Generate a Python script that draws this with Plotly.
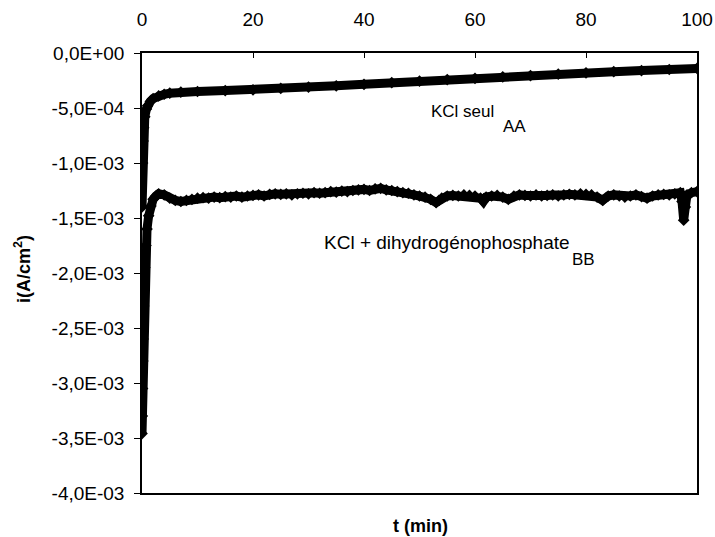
import plotly.graph_objects as go

# Series A: KCl seul  (time in min, current in 1e-4 A/cm2)
t_a = [0, 0.1, 0.2, 0.3, 0.5, 0.8, 1.0, 1.5, 2, 3, 4, 5, 7, 10, 15, 20, 25, 30, 35, 40, 45,
       50, 55, 60, 65, 70, 75, 80, 85, 90, 95, 100]
i_a = [-14.0, -10.0, -8.0, -6.8, -5.8, -5.1, -4.8, -4.4, -4.15, -3.9, -3.75, -3.65, -3.55,
       -3.5, -3.42, -3.35, -3.22, -3.1, -2.98, -2.85, -2.7, -2.55, -2.42, -2.3, -2.17, -2.05,
       -1.92, -1.8, -1.7, -1.6, -1.5, -1.4]

# Series B: KCl + dihydrogénophosphate
t_b = [0, 0.05, 0.1, 0.15, 0.2, 0.3, 0.4, 0.5, 0.7, 0.9, 1.2, 1.6, 2.0, 2.5, 3, 4, 5, 6, 7, 8,
       9, 10, 11, 12, 13, 14, 15, 16, 17, 18, 19, 20, 21, 22, 23, 24, 25, 26, 27, 28, 29, 30,
       31, 32, 33, 34, 35, 36, 37, 38, 39, 40, 41, 42, 43, 44, 45, 46, 47, 48, 49, 50, 51, 52,
       53, 53.5, 54, 55, 56, 57, 58, 59, 60, 61, 61.5, 62, 63, 64, 65, 66, 67, 68, 69, 70, 71,
       72, 73, 74, 75, 76, 77, 78, 79, 80, 81, 82, 83, 84, 85, 86, 87, 88, 89, 90, 91, 92, 93,
       94, 95, 96, 97, 97.3, 97.6, 97.9, 98.2, 99, 100]
i_b = [-34.6, -33.0, -30.5, -28.0, -26.0, -23.0, -21.0, -19.5, -17.5, -16.0, -14.8, -13.9,
       -13.3, -13.0, -12.8, -12.9, -13.2, -13.4, -13.5, -13.4, -13.3, -13.2, -13.15, -13.2,
       -13.1, -13.15, -13.05, -13.1, -13.0, -13.1, -13.0, -12.95, -12.9, -13.0, -12.85, -12.8,
       -12.85, -12.8, -12.9, -12.8, -12.75, -12.8, -12.7, -12.75, -12.7, -12.6, -12.65, -12.55,
       -12.6, -12.5, -12.45, -12.4, -12.5, -12.35, -12.3, -12.45, -12.5, -12.6, -12.7, -12.75,
       -12.9, -13.0, -13.1, -13.3, -13.6, -13.4, -13.2, -13.0, -12.95, -13.0, -12.9, -12.95,
       -13.0, -13.2, -13.5, -13.1, -13.0, -12.95, -13.1, -13.3, -13.0, -12.9, -12.95, -13.0,
       -12.9, -13.0, -12.95, -12.9, -13.0, -12.9, -12.85, -12.9, -12.8, -12.85, -12.9, -13.1,
       -13.4, -13.0, -12.9, -13.0, -13.1, -13.0, -12.9, -13.05, -13.2, -13.0, -12.9, -12.85,
       -12.9, -12.8, -12.7, -13.5, -15.2, -14.0, -12.9, -12.7, -12.6]

y_ticks = [0, -5e-4, -1e-3, -1.5e-3, -2e-3, -2.5e-3, -3e-3, -3.5e-3, -4e-3]
y_tick_text = ["0,0E+00", "-5,0E-04", "-1,0E-03", "-1,5E-03", "-2,0E-03", "-2,5E-03",
               "-3,0E-03", "-3,5E-03", "-4,0E-03"]
x_ticks = [0, 20, 40, 60, 80, 100]

FONT = "Liberation Sans, Arial, sans-serif"
L, R, T, B, W, H = 142, 18, 53, 44, 715, 537
PW, PH = W - L - R, H - T - B


def px(x, y):
    return dict(x=(x - L) / PW, y=(H - B - y) / PH, xref="paper", yref="paper",
                xanchor="center", yanchor="middle", showarrow=False)


fig = go.Figure()
for t, i in [(t_a, i_a), (t_b, i_b)]:
    fig.add_trace(go.Scatter(
        x=t, y=[v * 1e-4 for v in i], mode="lines+markers",
        line=dict(color="black", width=9),
        marker=dict(symbol="diamond", size=9, color="black"),
        showlegend=False, hoverinfo="skip"))

fig.update_layout(
    width=W, height=H,
    margin=dict(l=L, r=R, t=T, b=B),
    paper_bgcolor="white", plot_bgcolor="white",
    font=dict(family=FONT, color="black"),
    xaxis=dict(range=[0, 100], side="top", tickvals=x_ticks, ticks="inside", ticklen=5,
               tickcolor="black", showline=True, linecolor="black", linewidth=1.5,
               mirror=True, showgrid=False, zeroline=False, tickfont=dict(size=19),
               ticklabelstandoff=18, automargin=False),
    yaxis=dict(range=[-4e-3, 0], tickvals=y_ticks, ticktext=y_tick_text, ticks="outside",
               ticklen=6, tickcolor="black", showline=True, linecolor="black",
               linewidth=1.5, mirror=True, showgrid=False, zeroline=False,
               tickfont=dict(size=19), ticklabelstandoff=6, automargin=False),
)

f17 = dict(size=17, color="black", family=FONT)
fig.add_annotation(text="KCl seul", font=f17, **px(462, 111))
fig.add_annotation(text="AA", font=f17, **px(514, 126))
fig.add_annotation(text="KCl + dihydrogénophosphate",
                   font=dict(size=19, color="black", family=FONT), **px(447, 242))
fig.add_annotation(text="BB", font=f17, **px(583, 259))
fig.add_annotation(text="<b>t (min)</b>", font=dict(size=18, color="black", family=FONT),
                   **px(420, 526))
fig.add_annotation(text="<b>i(A/cm<sup>2</sup>)</b>", textangle=-90,
                   font=dict(size=18, color="black", family=FONT), **px(22, 269))

fig.write_html("out.html")
